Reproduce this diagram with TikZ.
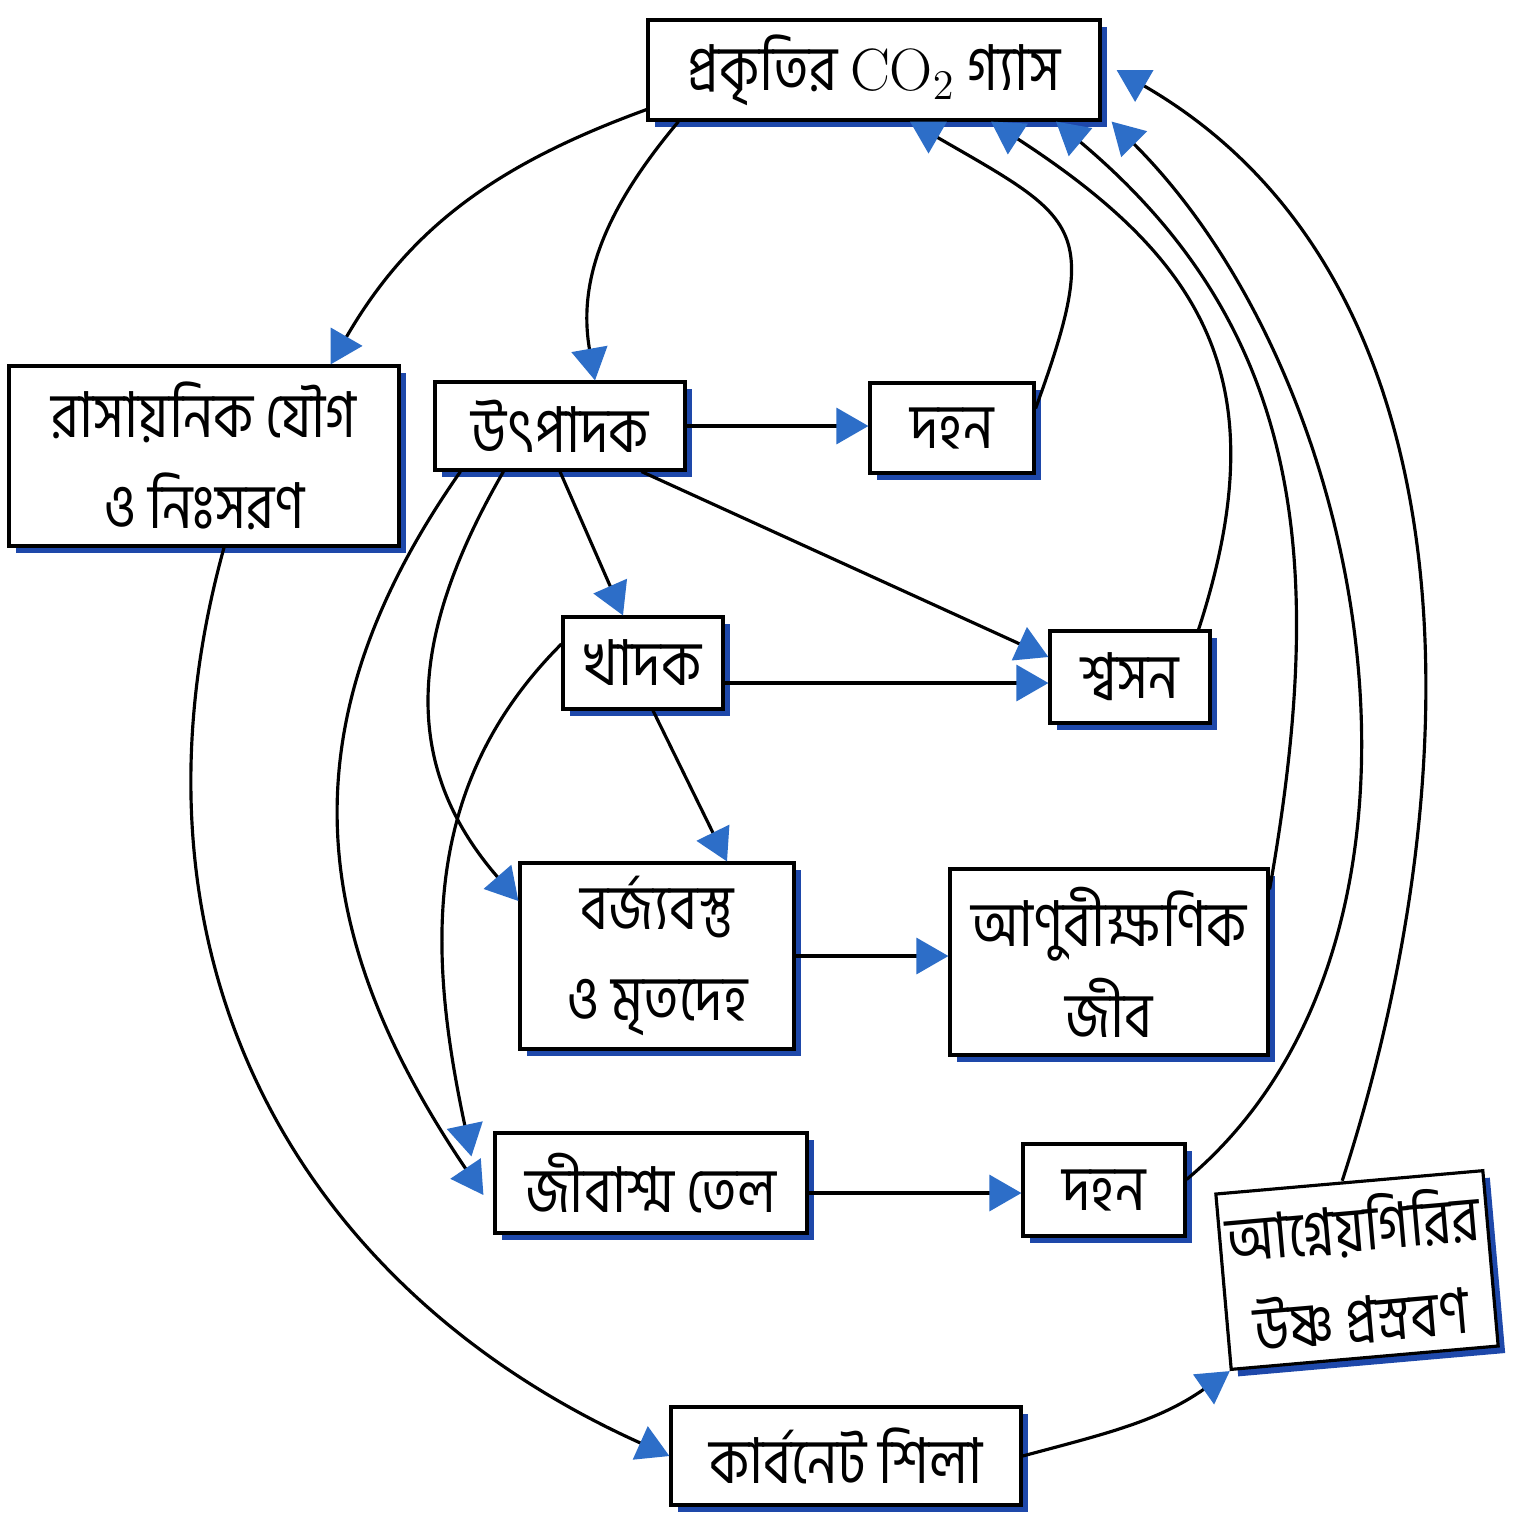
\documentclass[tikz,border=0pt]{standalone}
\usepackage{fontspec}
\newfontfamily\bn[Script=Bengali,FakeStretch=0.85]{Hind Siliguri}
\usepackage{tikz}
\usetikzlibrary{arrows.meta,shadows,positioning}
\definecolor{boxblue}{RGB}{30,72,170}
\definecolor{tipblue}{RGB}{45,110,200}

\begin{document}
\begin{tikzpicture}[
  box/.style={draw, line width=0.9pt, fill=white, inner sep=2pt, align=center,
    font=\bn\fontsize{18}{26}\selectfont,
    drop shadow={shadow xshift=0.7mm, shadow yshift=-0.7mm, fill=boxblue, opacity=1}},
  arr/.style={line width=0.9pt, -{Triangle[length=3.2mm, width=3.6mm, color=tipblue]}}]
\fill[white] (0,0) rectangle (15.19,-15.15);
\useasboundingbox (0,0) rectangle (15.19,-15.15);
\node[box, minimum width=4.52cm, minimum height=1cm] (co2) at (8.74,-0.70) {প্রকৃতির {\fontsize{17}{20}\selectfont$\mathrm{CO}_2$} গ্যাস};
\node[box, minimum width=3.9cm, minimum height=1.8cm] (chem) at (2.04,-4.56) {রাসায়নিক যৌগ\\ও নিঃসরণ};
\node[box, minimum width=2.5cm, minimum height=0.88cm] (prod) at (5.60,-4.26) {উৎপাদক};
\node[box, minimum width=1.64cm, minimum height=0.9cm] (burnA) at (9.52,-4.28) {দহন};
\node[box, minimum width=1.6cm, minimum height=0.92cm] (cons) at (6.43,-6.63) {খাদক};
\node[box, minimum width=1.6cm, minimum height=0.92cm] (resp) at (11.30,-6.77) {শ্বসন};
\node[box, minimum width=2.74cm, minimum height=1.86cm] (waste) at (6.57,-9.56) {বর্জ্যবস্তু\\ও মৃতদেহ};
\node[box, minimum width=3.18cm, minimum height=1.86cm] (micro) at (11.09,-9.62) {আণুবীক্ষণিক\\জীব};
\node[box, minimum width=3.12cm, minimum height=1cm] (fossil) at (6.51,-11.83) {জীবাশ্ম তেল};
\node[box, minimum width=1.62cm, minimum height=0.92cm] (burnB) at (11.04,-11.90) {দহন};
\node[box, minimum width=2.5cm, minimum height=1.76cm, rotate=5] (volc) at (13.57,-12.70) {আগ্নেয়গিরির\\উষ্ণ প্রস্রবণ};
\node[box, minimum width=3.5cm, minimum height=0.98cm] (carb) at (8.46,-14.56) {কার্বনেট শিলা};
\draw[arr] ([yshift=1.2mm]co2.south west) to[out=200,in=60] ([xshift=-7mm]chem.north east);
\draw[arr] ([xshift=3.2mm]co2.south west) to[out=-130,in=100] ([xshift=3.5mm]prod.north);
\draw[arr] (prod.east) -- (prod.east -| burnA.west);
\draw[arr] ([yshift=-2.7mm]burnA.north east) to[out=70,in=-30,looseness=1.6] ([xshift=3.6mm]co2.south);
\draw[arr] ([xshift=-1.3mm]resp.north east) to[out=72,in=-33,looseness=1.2] ([xshift=11.7mm]co2.south);
\draw[arr] ([yshift=-2.2mm]micro.north east) to[out=80,in=-40,looseness=1.05] ([xshift=18.2mm]co2.south);
\draw[arr] ([yshift=-3.7mm]burnB.north east) to[out=40,in=-45,looseness=0.9] ([xshift=1mm]co2.south east);
\draw[arr] ([xshift=-0.7mm]volc.north) to[out=72,in=-30,looseness=0.95] ([xshift=1.5mm]co2.east);
\draw[arr] (carb.east) to[out=15,in=-145] (volc.south west);
\draw[arr] ([xshift=2mm]chem.south) .. controls (1.1,-9.6) and (3.0,-12.9) .. (carb.west);
\draw[arr] ([xshift=2.7mm]prod.south west) to[out=235,in=124,looseness=1.1] ([xshift=-1mm,yshift=-1.2mm]fossil.west);
\draw[arr] ([xshift=7mm]prod.south west) to[out=240,in=131,looseness=1.1] ([yshift=5.5mm]waste.west);
\draw[arr] ([yshift=1.9mm]cons.west) to[out=225,in=102] ([xshift=-2.2mm,yshift=-2.5mm]fossil.north west);
\draw[arr] ([xshift=-4.5mm]prod.south east) -- ([yshift=2mm]resp.west);
\draw[arr] (prod.south) -- ([xshift=-2mm]cons.north);
\draw[arr] ([yshift=-2mm]cons.east) -- ([yshift=-2mm]cons.east -| resp.west);
\draw[arr] ([xshift=1mm]cons.south) -- ([xshift=7mm]waste.north);
\draw[arr] (waste.east) -- (waste.east -| micro.west);
\draw[arr] ([yshift=-1mm]fossil.east) -- ([yshift=-1mm]fossil.east -| burnB.west);
\end{tikzpicture}
\end{document}
